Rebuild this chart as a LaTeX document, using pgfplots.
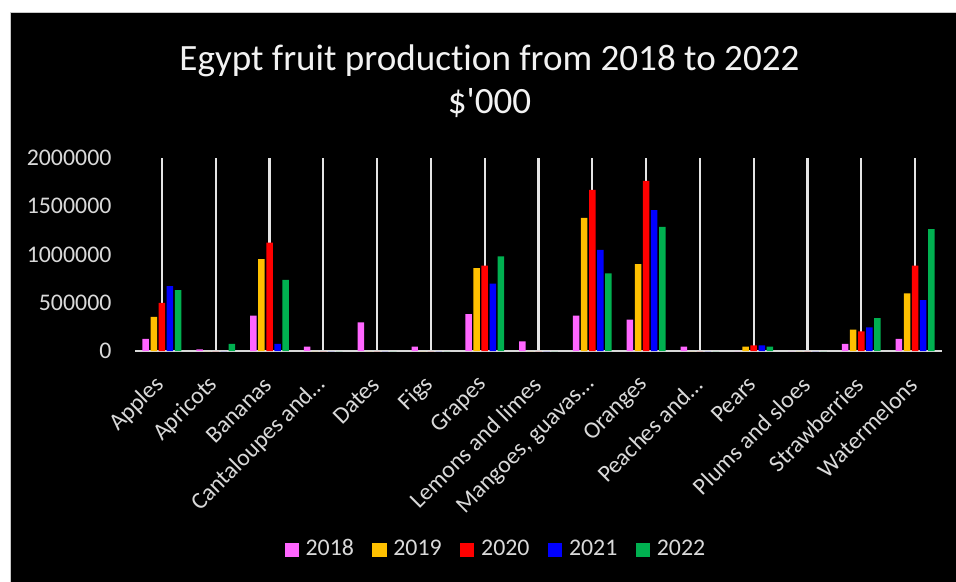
\documentclass[border=0pt]{standalone}
\usepackage{pgfplots}
\pgfplotsset{compat=1.18}
\usepackage{pgfplotstable}
\usepackage{fontspec}
\setmainfont{Carlito}[Ligatures={TeX,NoCommon}]
\newfontfamily\plainf{Carlito}[Ligatures={TeXOff,NoCommon}]
\definecolor{c18}{RGB}{255,102,255}
\definecolor{c19}{RGB}{255,192,0}
\definecolor{c20}{RGB}{255,0,0}
\definecolor{c21}{RGB}{0,0,255}
\definecolor{c22}{RGB}{0,176,80}
\definecolor{lg}{RGB}{217,217,217}
\definecolor{bord}{RGB}{200,200,200}

\pgfplotstableread{
x a b c d e
0 125000 353000 499000 672000 631000
1 17000 0 0 0 73000
2 367000 953000 1123000 73000 738000
3 45000 0 0 0 0
4 298000 0 0 0 0
5 45000 0 0 0 0
6 381000 860000 884000 697000 981000
7 100000 0 0 0 0
8 367000 1380000 1671000 1047000 804000
9 326000 901000 1764000 1459000 1286000
10 45000 0 0 0 0
11 0 45000 59000 59000 45000
12 0 0 0 0 0
13 73000 222000 204000 246000 340000
14 125000 596000 884000 527000 1262000
}\data

\begin{document}
\begin{tikzpicture}[x=0.3774pt,y=0.3774pt]
\useasboundingbox (0,0) rectangle (956,-582);
\fill[white] (0,0) rectangle (956,-582);
\fill[black] (10.5,-12.5) rectangle (956,-582);
\draw[bord, line width=0.5pt] (10.5,-582) -- (10.5,-12.5) -- (956,-12.5);
\node[anchor=base, inner sep=0pt, font=\plainf\fontsize{14}{17}\selectfont, text=white!95!black] at (489.5,-71) {Egypt fruit production from 2018 to 2022};
\node[anchor=base, inner sep=0pt, font=\plainf\fontsize{14}{17}\selectfont, text=white!95!black] at (489.5,-114) {\$'000};
\begin{axis}[
  at={(50.95pt,-132.47pt)}, anchor=south west,
  scale only axis, width=304.56pt, height=72.84pt,
  xmin=-0.5, xmax=14.5, ymin=0, ymax=2000000,
  ybar=0.6pt, bar width=2.45pt,
  axis x line*=bottom, axis y line*=left,
  x axis line style={lg, line width=0.75pt, -},
  y axis line style={draw=none},
  major tick length=0pt,
  xtick={0,...,14},
  xticklabels={Apples,Apricots,Bananas,Cantaloupes and…,Dates,Figs,Grapes,Lemons and limes,{Mangoes, guavas…},Oranges,Peaches and…,Pears,Plums and sloes,Strawberries,Watermelons},
  ytick={0,500000,1000000,1500000,2000000},
  scaled y ticks=false,
  /pgf/number format/fixed,
  /pgf/number format/1000 sep={},
  /pgf/number format/assume math mode=true,
  ticklabel style={font=\fontsize{9}{11}\selectfont, text=lg},
  yticklabel style={inner sep=0pt, xshift=-8.7pt},
  xticklabel style={inner sep=0pt, xshift=-0.45pt, yshift=-11.2pt, rotate=45, anchor=east},
  xmajorgrids,
  major x grid style={white!90!black, line width=0.8pt},
  legend style={at={(0.446,-1.03)}, anchor=center, draw=none, fill=none,
    legend columns=-1, font=\fontsize{9}{11}\selectfont, text=lg, inner sep=0pt,
    nodes={inner sep=0pt},
    /tikz/every odd column/.append style={column sep=2.6pt},
    /tikz/every even column/.append style={column sep=7pt}},
  legend image code/.code={\fill[#1] (0pt,-2.65pt) rectangle (5.3pt,2.65pt);},
]
\addplot[fill=c18, draw=none] table[x=x,y=a] {\data};
\addplot[fill=c19, draw=none] table[x=x,y=b] {\data};
\addplot[fill=c20, draw=none] table[x=x,y=c] {\data};
\addplot[fill=c21, draw=none] table[x=x,y=d] {\data};
\addplot[fill=c22, draw=none] table[x=x,y=e] {\data};
\legend{2018,2019,2020,2021,2022}
\end{axis}
\end{tikzpicture}
\end{document}
